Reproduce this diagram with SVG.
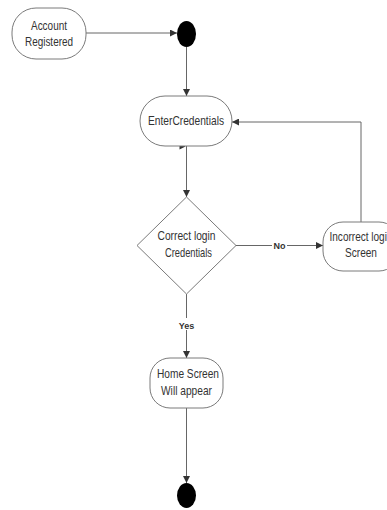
<svg xmlns="http://www.w3.org/2000/svg" width="387" height="510" viewBox="0 0 387 510">
<style>
.node{fill:#fff;stroke:#7a7a7a;stroke-width:1}
.t{font-family:"Liberation Sans",Arial,sans-serif;font-size:13px;fill:#333;text-anchor:middle}
.lbl{font-family:"Liberation Sans",Arial,sans-serif;font-size:9px;font-weight:bold;fill:#333;text-anchor:middle}
.edge{fill:none;stroke:#666;stroke-width:1}
.dot{fill:#000}
</style>
<defs>
<marker id="arr" viewBox="0 0 10 10" refX="10" refY="5" markerWidth="7" markerHeight="7" orient="auto" markerUnits="userSpaceOnUse">
<path d="M0,0 L10,5 L0,10 z" fill="#333"/>
</marker>
</defs>
<rect width="387" height="510" fill="#fff"/>
<g id="connectors">
<line class="edge" x1="86" y1="33" x2="177" y2="33" marker-end="url(#arr)"/>
<line class="edge" x1="186.5" y1="47" x2="186.5" y2="96" marker-end="url(#arr)"/>
<line class="edge" x1="186.5" y1="146" x2="186.5" y2="197" marker-end="url(#arr)"/>
<polygon points="179.5,143.5 185.5,146.5 179.5,149.5" fill="#333"/>
<line class="edge" x1="236" y1="245.5" x2="323" y2="245.5" marker-end="url(#arr)"/>
<rect x="272" y="240" width="15" height="10" fill="#fff"/>
<text class="lbl" x="279.5" y="248.5">No</text>
<polyline class="edge" points="361,222 361,122 232,122" marker-end="url(#arr)"/>
<line class="edge" x1="186.5" y1="294" x2="186.5" y2="358" marker-end="url(#arr)"/>
<rect x="177" y="318" width="19" height="12" fill="#fff"/>
<text class="lbl" x="186.5" y="328.5">Yes</text>
<line class="edge" x1="186.5" y1="408" x2="186.5" y2="483" marker-end="url(#arr)"/>
</g>
<g id="account-registered">
<rect class="node" x="12" y="8" width="74" height="51" rx="24" ry="24"/>
<text class="t" x="49" y="29.5" textLength="36" lengthAdjust="spacingAndGlyphs">Account</text>
<text class="t" x="49" y="45.5" textLength="48" lengthAdjust="spacingAndGlyphs">Registered</text>
</g>
<g id="start">
<ellipse class="dot" cx="186.5" cy="34" rx="9.5" ry="13"/>
</g>
<g id="enter-credentials">
<rect class="node" x="140" y="96" width="92" height="50" rx="25" ry="25"/>
<text class="t" x="186" y="124.5" textLength="76" lengthAdjust="spacingAndGlyphs">EnterCredentials</text>
</g>
<g id="correct-login">
<polygon class="node" points="186.5,197 236,245.5 186.5,294 137,245.5"/>
<text class="t" x="186.5" y="240" textLength="58" lengthAdjust="spacingAndGlyphs">Correct login</text>
<text class="t" x="188.5" y="256.5" textLength="47" lengthAdjust="spacingAndGlyphs">Credentials</text>
</g>
<g id="incorrect-login">
<rect class="node" x="323" y="222" width="76" height="49" rx="20" ry="20"/>
<text class="t" x="361" y="241" textLength="63" lengthAdjust="spacingAndGlyphs">Incorrect login</text>
<text class="t" x="361" y="257" textLength="32" lengthAdjust="spacingAndGlyphs">Screen</text>
</g>
<g id="home-screen">
<rect class="node" x="150" y="358" width="73" height="50" rx="20" ry="20"/>
<text class="t" x="188" y="378" textLength="62" lengthAdjust="spacingAndGlyphs">Home Screen</text>
<text class="t" x="186.5" y="394.5" textLength="51" lengthAdjust="spacingAndGlyphs">Will appear</text>
</g>
<g id="end">
<ellipse class="dot" cx="186.5" cy="495.5" rx="9.5" ry="12.5"/>
</g>
</svg>
